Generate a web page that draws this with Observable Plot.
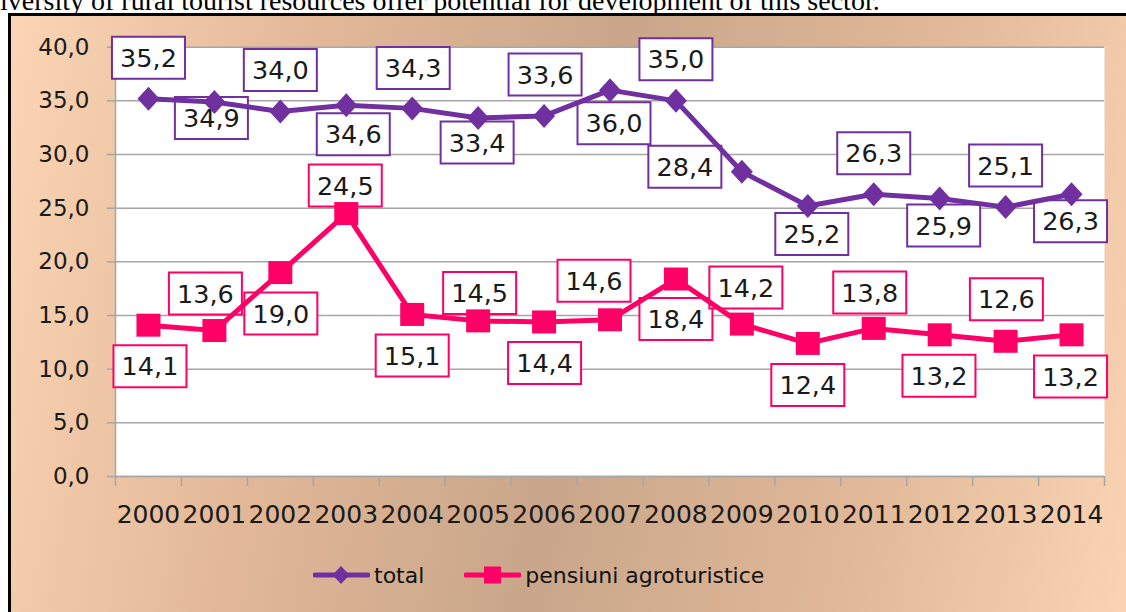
<!DOCTYPE html>
<html>
<head>
<meta charset="utf-8">
<script src="https://cdn.jsdelivr.net/npm/d3@7"></script>
<script src="https://cdn.jsdelivr.net/npm/@observablehq/plot@0.6"></script>
<style>
  html, body { margin: 0; padding: 0; background: #fff; width: 1126px; height: 612px; overflow: hidden; position: relative; }
  #head { position: absolute; left: -14px; top: -13px; font-family: "Liberation Serif", "Times New Roman", serif; font-size: 28px; line-height: 28px; white-space: nowrap; color: #000; }
  #box { position: absolute; left: 8px; top: 13px; width: 1126px; height: 620px; border-left: 3px solid #000; border-top: 3px solid #000;
         background: linear-gradient(100deg, #fbd5b5 0%, #e2b898 25%, #c9a68a 50%, #e0b898 75%, #fbd5b5 100%); }
  #chart { position: absolute; left: 0; top: 0; }
  #legend { position: absolute; left: 313px; top: 560px; display: flex; align-items: center; font-family: "DejaVu Sans", sans-serif; font-size: 22px; color: #111; }
  #legend .item { display: flex; align-items: center; margin-right: 40px; }
  #legend svg { display: block; margin-right: 4px; }
</style>
</head>
<body>
<div id="head">diversity of rural tourist resources offer potential for development of this sector.</div>
<div id="box"></div>
<div id="chart"></div>
<div id="legend"></div>
<script>
// ---- data ----
const years = [2000, 2001, 2002, 2003, 2004, 2005, 2006, 2007, 2008, 2009, 2010, 2011, 2012, 2013, 2014];
const total = [35.2, 34.9, 34.0, 34.6, 34.3, 33.4, 33.6, 36.0, 35.0, 28.4, 25.2, 26.3, 25.9, 25.1, 26.3];
const pensiuni = [14.1, 13.6, 19.0, 24.5, 15.1, 14.5, 14.4, 14.6, 18.4, 14.2, 12.4, 13.8, 13.2, 12.6, 13.2];
const yTicks = [0, 5, 10, 15, 20, 25, 30, 35, 40];
const seriesNames = ["total", "pensiuni agroturistice"];

// ---- layout (label box offsets in px, relative to the point) ----
const totalLabelOffset = [[0,-41],[-3,16],[0,-41.5],[7,29],[1,-40.5],[-1,24.5],[1,-41.5],[4,33],[0,-41.6],[-57,-5],[4,28],[0,-41],[4,27],[0,-41.7],[-1,27]];
const pensLabelOffset = [[1.5,41],[-9,-37],[0.5,41],[-1,-28],[0,41],[1.5,-28],[0.5,41],[-16,-39],[0,40],[4,-36.6],[0,41.5],[-4,-36],[-0.7,41],[0.8,-42],[-1,41.6]];

const PURPLE = "#7030a0";
const PINK = "#ff0066";
const GRID = "#a6a6a6";

const fmt = v => v.toFixed(1).replace(".", ",");

const totalData = years.map((year, i) => ({year, value: total[i]}));
const pensData = years.map((year, i) => ({year, value: pensiuni[i]}));
const boundaries = d3.range(years.length + 1).map(i => years[0] - 0.5 + i);

const diamond = { draw(ctx) { ctx.moveTo(0, -12); ctx.lineTo(11, 0); ctx.lineTo(0, 12); ctx.lineTo(-11, 0); ctx.closePath(); } };
const square = { draw(ctx) { ctx.rect(-12, -11.5, 24, 23); } };
const labelBox = { draw(ctx) { ctx.rect(-36.5, -21, 73, 42); } };

function labelMarks(data, offsets, color) {
  const marks = [];
  data.forEach((d, i) => {
    const [dx, dy] = offsets[i];
    marks.push(Plot.dot([d], {x: "year", y: "value", symbol: labelBox, r: 5, fill: "white", stroke: color, strokeWidth: 2, dx, dy}));
    marks.push(Plot.text([d], {x: "year", y: "value", text: d => fmt(d.value), dx, dy: dy + 1, fontSize: 25.5, fill: "#1a1a1a", fontFamily: "DejaVu Sans"}));
  });
  return marks;
}

const chart = Plot.plot({
  width: 1126,
  height: 560,
  marginLeft: 115,
  marginRight: 22,
  marginTop: 46.7,
  marginBottom: 84,
  style: {background: "transparent", fontFamily: "DejaVu Sans", color: "#1a1a1a", overflow: "visible"},
  x: {domain: [years[0] - 0.5, years[years.length - 1] + 0.5]},
  y: {domain: [0, 40]},
  marks: [
    Plot.frame({fill: "white", stroke: "none"}),
    Plot.gridY(yTicks, {stroke: GRID, strokeOpacity: 1, strokeWidth: 1.5}),
    Plot.ruleX([years[0] - 0.5], {stroke: GRID, strokeWidth: 1.5}),
    Plot.ruleY([0], {stroke: GRID, strokeWidth: 1.5}),
    Plot.axisY(yTicks, {tickSize: 8, tickPadding: 18, tickFormat: fmt, fontSize: 23, stroke: GRID, strokeWidth: 1.5, label: null}),
    Plot.axisX(boundaries, {tickSize: 10, tickFormat: () => "", stroke: GRID, strokeWidth: 1.5, label: null}),
    Plot.axisX(years, {tickSize: 0, tickPadding: 29, tickFormat: d => String(d), fontSize: 25, label: null}),
    ...labelMarks(totalData, totalLabelOffset, PURPLE),
    ...labelMarks(pensData, pensLabelOffset, PINK),
    Plot.line(totalData, {x: "year", y: "value", stroke: PURPLE, strokeWidth: 5}),
    Plot.dot(totalData, {x: "year", y: "value", symbol: diamond, r: 5, fill: PURPLE, stroke: "none"}),
    Plot.line(pensData, {x: "year", y: "value", stroke: PINK, strokeWidth: 5}),
    Plot.dot(pensData, {x: "year", y: "value", symbol: square, r: 5, fill: PINK, stroke: "none"})
  ]
});
document.getElementById("chart").appendChild(chart);

// legend
const legend = document.getElementById("legend");
const swatch = (color, kind) => {
  const marker = kind === "diamond"
    ? `<path d="M28,-9 L36.5,0 L28,9 L19.5,0 Z" fill="${color}" transform="translate(0,15)"/>`
    : `<rect x="20" y="6.5" width="17" height="17" fill="${color}"/>`;
  return `<svg width="57" height="30"><line x1="2" y1="15" x2="55" y2="15" stroke="${color}" stroke-width="5" stroke-linecap="round"/>${marker}</svg>`;
};
legend.innerHTML =
  `<div class="item">${swatch(PURPLE, "diamond")}<span>${seriesNames[0]}</span></div>` +
  `<div class="item">${swatch(PINK, "square")}<span>${seriesNames[1]}</span></div>`;
</script>
</body>
</html>
